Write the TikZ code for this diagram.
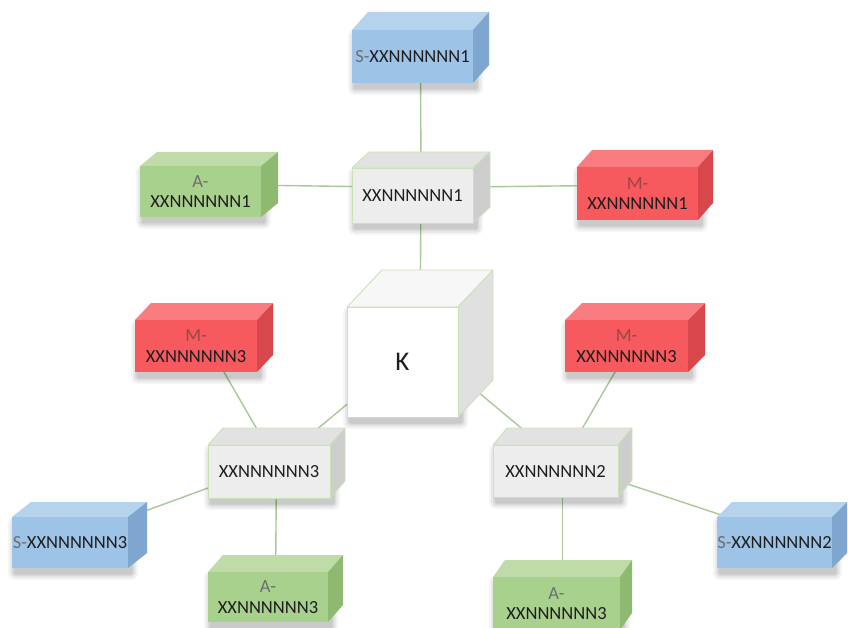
\documentclass[tikz,border=0pt]{standalone}
\usepackage{fontspec}
\setmainfont{Carlito}
\usetikzlibrary{backgrounds}
\definecolor{bluefront}{HTML}{9DC3E6}
\definecolor{bluetop}{HTML}{B6D3EE}
\definecolor{blueside}{HTML}{7FA6CE}
\definecolor{greenfront}{HTML}{A9D18E}
\definecolor{greentop}{HTML}{BFDCA8}
\definecolor{greenside}{HTML}{8DBA70}
\definecolor{redfront}{HTML}{F65A5E}
\definecolor{redtop}{HTML}{F87C80}
\definecolor{redside}{HTML}{D8474B}
\definecolor{grayfront}{HTML}{EDEDED}
\definecolor{graytop}{HTML}{E2E2E2}
\definecolor{grayside}{HTML}{CDCDCD}
\definecolor{whitefront}{HTML}{FFFFFF}
\definecolor{whitetop}{HTML}{F7F7F7}
\definecolor{whiteside}{HTML}{E0E0E0}
\definecolor{bordc}{HTML}{C9E2B8}
\definecolor{connc}{HTML}{A8C89A}
\definecolor{txtc}{HTML}{1E1E1E}
\definecolor{pre}{HTML}{6E6E6E}
\definecolor{prered}{HTML}{9E4446}
\tikzset{
  conn/.style={draw=connc, line width=1.4pt},
  lbl/.style={font=\fontsize{18.5}{20.5}\selectfont, text=txtc, align=center, inner sep=0pt},
  blue edge/.style={},
  green edge/.style={},
  red edge/.style={},
  gray edge/.style={draw=bordc, line width=0.9pt, line join=round},
  white edge/.style={draw=bordc, line width=0.9pt, line join=round},
}
% name, x1, y1, x2, y2 (front face), dx, dy (depth), colour, text
\newcommand\cuboid[9]{%
  \foreach \shd/\opc in {7/0.04,5/0.05,3/0.06,1.5/0.07}{%
    \fill[black,opacity=\opc,rounded corners=\shd pt] ({#2-\shd+3},{#3+6-\shd}) rectangle ({#4+\shd+3},{#5+\shd+5});}
  \path[fill=#8top, #8 edge] (#2,#3) -- ({#2+#6},{#3-#7}) -- ({#4+#6},{#3-#7}) -- (#4,#3) -- cycle;
  \path[fill=#8side, #8 edge] (#4,#3) -- ({#4+#6},{#3-#7}) -- ({#4+#6},{#5-#7}) -- (#4,#5) -- cycle;
  \path[fill=#8front, #8 edge] (#2,#3) rectangle (#4,#5);
  \node[lbl] (#1) at ({(#2+#4)/2},{(#3+#5)/2}) {#9};
  \coordinate (#1c) at ({(#2+#4+#6)/2},{(#3+#5-#7)/2});
}
\begin{document}
\begin{tikzpicture}[x=1pt,y=-1pt]
\useasboundingbox (0,0) rectangle (848,628);
\cuboid{S1}{352}{30}{473}{83}{16}{18}{blue}{{\color{pre}S-}XXNNNNNN1}
\cuboid{A1}{140}{166}{261}{217}{17}{14}{green}{{\color{pre}A-}\\XXNNNNNN1}
\cuboid{N1}{352}{168}{473}{223}{17}{16}{gray}{XXNNNNNN1}
\cuboid{M1}{577}{167}{698}{220}{15}{17}{red}{{\color{prered}M-}\\XXNNNNNN1}
\cuboid{K}{347}{307}{458}{417}{35}{37}{white}{\fontsize{27}{30}\selectfont K}
\cuboid{M3L}{135}{320}{257}{372}{16}{17}{red}{{\color{prered}M-}\\XXNNNNNN3}
\cuboid{M3R}{565}{320}{688}{372}{17}{17}{red}{{\color{prered}M-}\\XXNNNNNN3}
\cuboid{N3}{208}{445}{330}{498}{15}{17}{gray}{XXNNNNNN3}
\cuboid{N2}{493}{445}{618}{497}{14}{17}{gray}{XXNNNNNN2}
\cuboid{S3}{12}{517}{128}{568}{19}{15}{blue}{{\color{pre}S-}XXNNNNNN3}
\cuboid{S2}{717}{517}{832}{568}{15}{15}{blue}{{\color{pre}S-}XXNNNNNN2}
\cuboid{A3}{208}{572}{328}{622}{15}{17}{green}{{\color{pre}A-}\\XXNNNNNN3}
\cuboid{A2}{493}{577}{620}{630}{12}{17}{green}{{\color{pre}A-}\\XXNNNNNN3}
\begin{scope}[on background layer]
  \fill[white] (0,0) rectangle (848,628);
  \draw[conn] (S1c) -- (N1c);
  \draw[conn] (A1c) -- (N1c);
  \draw[conn] (N1c) -- (M1c);
  \draw[conn] (N1c) -- (Kc);
  \draw[conn] (M3Lc) -- (N3c);
  \draw[conn] (Kc) -- (N3c);
  \draw[conn] (Kc) -- (N2c);
  \draw[conn] (M3Rc) -- (N2c);
  \draw[conn] (N3c) -- (S3c);
  \draw[conn] (N3c) -- (A3c);
  \draw[conn] (N2c) -- (S2c);
  \draw[conn] (N2c) -- (A2c);
\end{scope}
\end{tikzpicture}
\end{document}
